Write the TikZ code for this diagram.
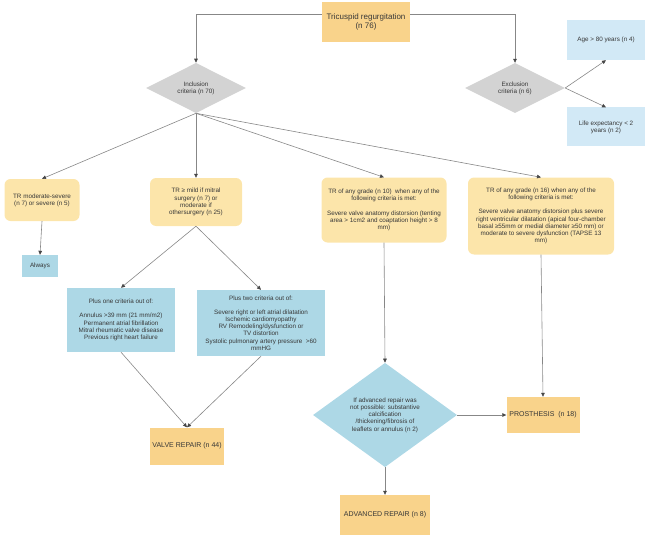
\documentclass[tikz,border=0pt]{standalone}
\usepackage{fontspec}
\setmainfont{Liberation Sans}
\usepackage{tikz}
\usetikzlibrary{shapes.geometric,arrows.meta}
\definecolor{boxor}{RGB}{249,211,139}
\definecolor{boxye}{RGB}{252,229,170}
\definecolor{boxbl}{RGB}{173,216,230}
\definecolor{boxpb}{RGB}{210,233,246}
\definecolor{diag}{RGB}{211,211,211}
\definecolor{ink}{RGB}{55,55,55}
\definecolor{wire}{RGB}{135,135,135}
\definecolor{tipc}{RGB}{70,70,70}

\begin{document}
\begin{tikzpicture}[x=1pt,y=-1pt,
  txt/.style={text=ink,font=\fontsize{6.3}{7.2}\selectfont,align=center,inner sep=1pt},
  orbox/.style={txt,fill=boxor,font=\fontsize{7}{8.5}\selectfont},
  yebox/.style={txt,fill=boxye,rounded corners=6pt},
  blbox/.style={txt,fill=boxbl},
  pbbox/.style={txt,fill=boxpb},
  dia/.style={txt,shape=diamond,inner sep=0pt},
  conn/.style={draw=wire,line width=0.6pt,-{Triangle[length=4pt,width=3.6pt,color=tipc]}}]
\useasboundingbox (0,0) rectangle (647,540);
% top and the two criteria
\node[orbox,minimum width=88,minimum height=40,font=\fontsize{8}{9.5}\selectfont] (top) at (366,22) {Tricuspid regurgitation\\(n 76)};
\node[dia,fill=diag,minimum width=100,minimum height=50] (incl) at (196,88) {Inclusion\\criteria (n 70)};
\node[dia,fill=diag,minimum width=100,minimum height=50] (excl) at (515,88) {Exclusion\\criteria (n 6)};
\node[pbbox,minimum width=78,minimum height=40] (age) at (606,40) {Age > 80 years (n 4)};
\node[pbbox,minimum width=78,minimum height=39] (life) at (606,127) {Life expectancy < 2\\years (n 2)};
% inclusion branches
\node[yebox,minimum width=75,minimum height=42] (trms) at (42,200) {TR moderate-severe\\(n 7) or severe (n 5)};
\node[blbox,minimum width=36,minimum height=22] (always) at (40,266) {Always};
\node[yebox,minimum width=92,minimum height=48] (trmild) at (196,202) {TR ≥ mild if mitral\\surgery (n 7) or\\moderate if\\othersurgery (n 25)};
\node[yebox,minimum width=125,minimum height=65] (tr10) at (384,210) {TR of any grade (n 10)\ \ when any of the\\following criteria is met:\\[7pt]Severe valve anatomy distorsion (tenting\\area > 1cm2 and coaptation height > 8\\mm)};
\node[yebox,minimum width=146,minimum height=77] (tr16) at (541,216) {TR of any grade (n 16) when any of the\\following criteria is met:\\[7pt]Severe valve anatomy distorsion plus severe\\right ventricular dilatation (apical four-chamber\\basal ≥55mm or medial diameter ≥50 mm) or\\moderate to severe dysfunction (TAPSE 13\\mm)};
% criteria lists
\node[blbox,minimum width=108,minimum height=64] (plus1) at (121,320) {Plus one criteria out of:\\[7pt]Annulus >39 mm (21 mm/m2)\\Permanent atrial fibrillation\\Mitral rheumatic valve disease\\Previous right heart failure};
\node[blbox,minimum width=128,minimum height=66] (plus2) at (261,323) {Plus two criteria out of:\\[7pt]Severe right or left atrial dilatation\\Ischemic cardiomyopathy\\RV Remodeling/dysfunction or\\TV distortion\\Systolic pulmonary artery pressure\ \ >60\\mmHG};
% outcomes
\node[orbox,minimum width=74,minimum height=37] (valve) at (187,446) {VALVE REPAIR (n 44)};
\node[dia,fill=boxbl,minimum width=144,minimum height=74] (advdia) at (385,415) {If advanced repair was\\not possible: substantive\\calcification\\/thickening/fibrosis of\\leaflets or annulus (n 2)};
\node[orbox,minimum width=73,minimum height=36] (prosth) at (543,415) {PROSTHESIS\ \ (n 18)};
\node[orbox,minimum width=90,minimum height=40] (advrep) at (385,515) {ADVANCED REPAIR (n 8)};
% connectors
\draw[conn] ([yshift=8pt]top.west) -| (incl.north);
\draw[conn] ([yshift=8pt]top.east) -| (excl.north);
\draw[conn] (excl.east) -- (age.south);
\draw[conn] (excl.east) -- (life.north);
\foreach \t in {trms,trmild,tr10,tr16}{\draw[conn] (incl.south) -- (\t.north);}
\draw[conn] (trms.south) -- (always.north);
\draw[conn] (trmild.south) -- (plus1.north);
\draw[conn] (trmild.south) -- (plus2.north);
\draw[conn] (plus1.south) -- (valve.north);
\draw[conn] (plus2.south) -- (valve.north);
\draw[conn] (tr10.south) -- (advdia.north);
\draw[conn] (advdia.east) -- (prosth.west);
\draw[conn] (tr16.south) -- (prosth.north);
\draw[conn] (advdia.south) -- (advrep.north);
\end{tikzpicture}
\end{document}
